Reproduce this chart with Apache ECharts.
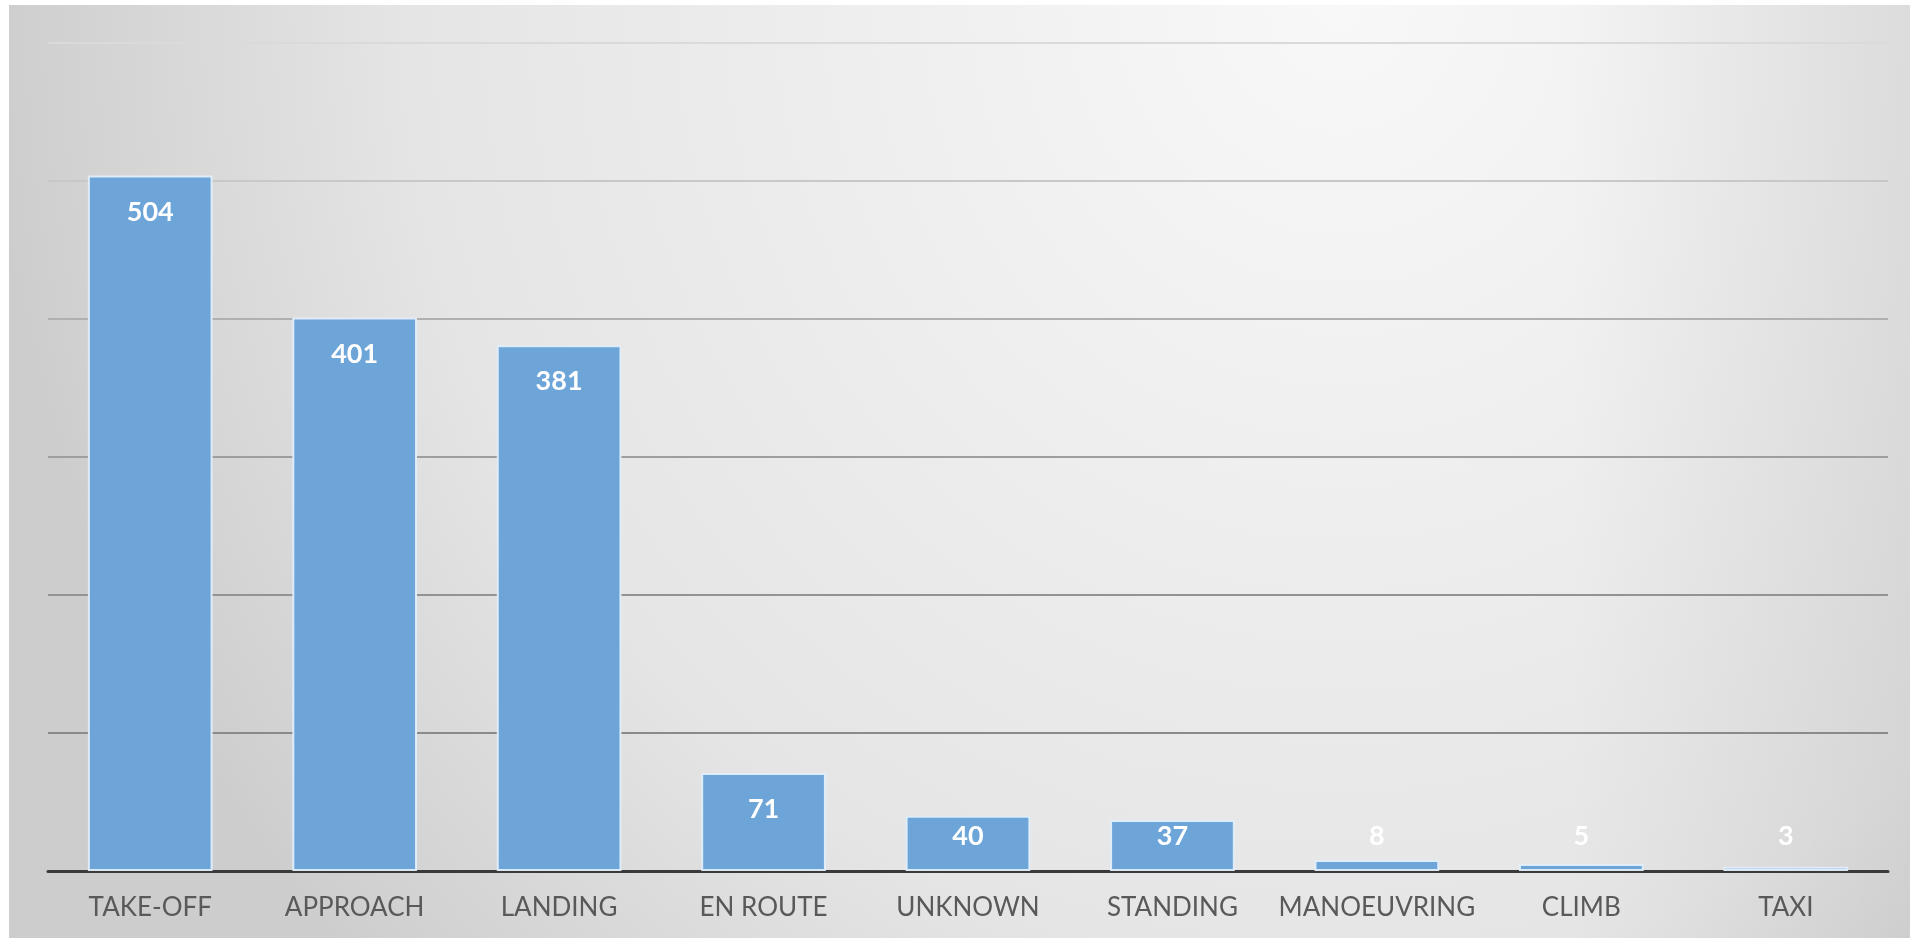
<!DOCTYPE html>
<html>
<head>
<meta charset="utf-8">
<script src="https://cdn.jsdelivr.net/npm/echarts@6/dist/echarts.min.js"></script>
<style>
  html, body { margin: 0; padding: 0; background: #ffffff; }
  #chart {
    position: absolute; left: 9px; top: 5px; width: 1901px; height: 933px;
    background:
      linear-gradient(to right, rgba(0,0,0,0) 82%, rgba(0,0,0,0.07) 100%),
      radial-gradient(ellipse 1350px 1400px at 1330px 0px, #f8f8f8 0%, #e5e5e5 69%, #cfcfcf 98%, #cdcdcd 100%);
  }
</style>
</head>
<body>
<div id="chart"></div>
<script>
const categories = ['TAKE-OFF', 'APPROACH', 'LANDING', 'EN ROUTE', 'UNKNOWN', 'STANDING', 'MANOEUVRING', 'CLIMB', 'TAXI'];
const values = [504, 401, 381, 71, 40, 37, 8, 5, 3];
const yMin = 0, yMax = 600, yStep = 100;

const chart = echarts.init(document.getElementById('chart'), null, { renderer: 'canvas' });

const seriesData = values.map(v => {
  if (v < 50) {
    return { value: v, label: { position: 'insideBottom', distance: 21 } };
  }
  return v;
});

chart.setOption({
  backgroundColor: 'transparent',
  animation: false,
  grid: { left: 39, right: 22, top: 38, bottom: 67 },
  xAxis: {
    type: 'category',
    data: categories,
    axisLine: { show: true, lineStyle: { color: '#3a3a3a', width: 3 } },
    axisTick: { show: false },
    axisLabel: { interval: 0, color: '#595959', fontFamily: 'Lato', fontSize: 26, margin: 24 },
    splitLine: { show: false }
  },
  yAxis: {
    type: 'value',
    min: yMin, max: yMax, interval: yStep,
    axisLine: { show: false },
    axisTick: { show: false },
    axisLabel: { show: false },
    splitLine: {
      show: true,
      lineStyle: { width: 2, color: ['#8a8a8a', '#8a8a8a', '#939393', '#9e9e9e', '#b0b0b0', '#c8c8c8', '#dadada'] }
    }
  },
  series: [{
    type: 'bar',
    data: seriesData,
    barWidth: '61%',
    itemStyle: { color: '#6ea5d9', borderColor: 'rgba(225,238,250,0.95)', borderWidth: 2 },
    label: {
      show: true,
      position: 'insideTop',
      distance: 23,
      color: '#ffffff',
      fontFamily: 'Lato',
      fontWeight: 'bold',
      fontSize: 27
    }
  }]
});
</script>
</body>
</html>
